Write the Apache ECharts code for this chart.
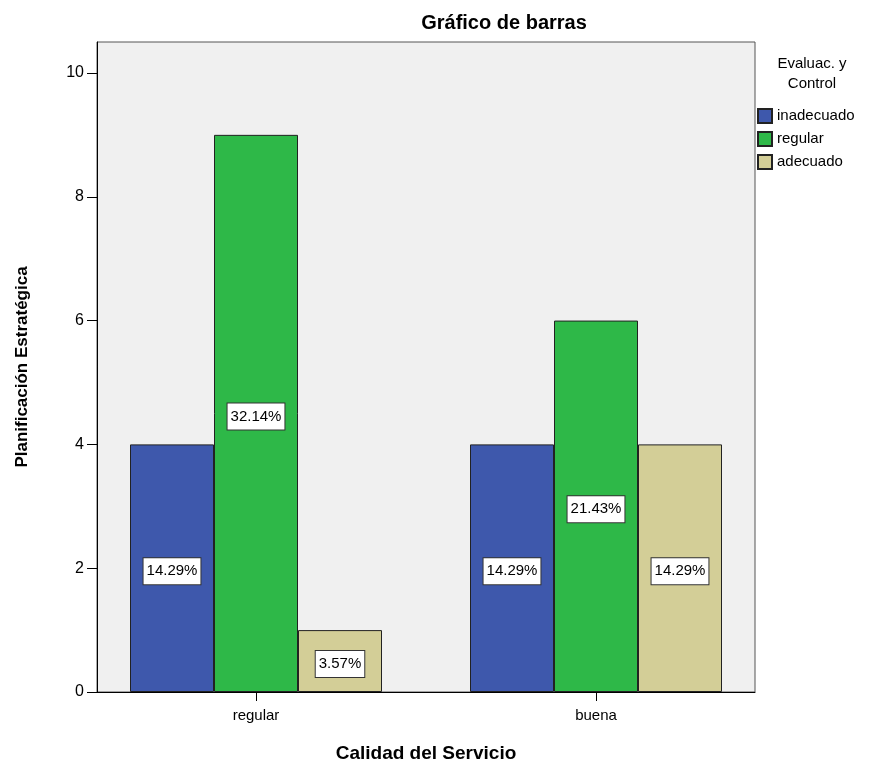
<!DOCTYPE html>
<html>
<head>
<meta charset="utf-8">
<script src="https://cdn.jsdelivr.net/npm/echarts@6/dist/echarts.min.js"></script>
<style>html,body{margin:0;padding:0;background:#fff;}#c{width:871px;height:764px;}</style>
</head>
<body>
<div id="c"></div>
<script>
var categories = ['regular', 'buena'];
var seriesNames = ['inadecuado', 'regular', 'adecuado'];
var inadecuado = [4, 4];
var regular = [9, 6];
var adecuado = [1, 4];
var pctInadecuado = ['14.29%', '14.29%'];
var pctRegular = ['32.14%', '21.43%'];
var pctAdecuado = ['3.57%', '14.29%'];
var yTicks = [0, 2, 4, 6, 8, 10];
var colors = ['#3e58ac', '#2eb848', '#d3ce97'];

var FONT = '"Liberation Sans", Arial, sans-serif';
var chart = echarts.init(document.getElementById('c'), null, {renderer: 'canvas'});

function mkSeries(name, vals, pcts, color) {
  return {
    name: name,
    type: 'bar',
    xAxisIndex: 1,
    yAxisIndex: 1,
    barWidth: 84,
    barGap: '0%',
    data: vals.map(function (v, i) { return {value: v, pct: pcts[i]}; }),
    itemStyle: {color: color, borderColor: '#222', borderWidth: 1},
    label: {
      show: true,
      position: 'inside',
      offset: [0, 3],
      formatter: function (p) { return p.data.pct; },
      fontFamily: FONT,
      fontSize: 15,
      color: '#000',
      backgroundColor: '#fff',
      borderColor: '#333',
      borderWidth: 1,
      padding: [6, 3, 5, 3]
    },
    emphasis: {disabled: true},
    animation: false
  };
}

var option = {
  animation: false,
  textStyle: {fontFamily: FONT},
  graphic: [
    {type: 'text', x: 504, y: 23, style: {text: 'Gráfico de barras', font: 'bold 20px ' + FONT, fill: '#000', textAlign: 'center', textVerticalAlign: 'middle'}},
    {type: 'text', x: 812, y: 64, style: {text: 'Evaluac. y', font: '15px ' + FONT, fill: '#000', textAlign: 'center', textVerticalAlign: 'middle'}},
    {type: 'text', x: 812, y: 84, style: {text: 'Control', font: '15px ' + FONT, fill: '#000', textAlign: 'center', textVerticalAlign: 'middle'}}
  ],
  legend: {
    orient: 'vertical',
    left: 757,
    top: 108,
    itemWidth: 14,
    itemHeight: 14,
    itemGap: 7,
    padding: 0,
    icon: 'rect',
    selectedMode: false,
    data: seriesNames,
    textStyle: {fontFamily: FONT, fontSize: 15, color: '#000'}
  },
  grid: [
    {left: 97, top: 42, width: 658, height: 650, show: true, backgroundColor: '#f0f0f0', borderColor: '#555', borderWidth: 1, containLabel: false, outerBoundsMode: 'none'},
    {left: 86, top: 42, width: 680, height: 650, show: false, containLabel: false, outerBoundsMode: 'none'}
  ],
  xAxis: [
    {gridIndex: 0, type: 'category', data: ['a'], axisLine: {show: true, lineStyle: {color: '#000', width: 1}}, axisTick: {show: false}, axisLabel: {show: false}, splitLine: {show: false}},
    {gridIndex: 1, type: 'category', data: categories, boundaryGap: true,
      axisLine: {show: false},
      axisTick: {show: true, alignWithLabel: true, length: 9, lineStyle: {color: '#000'}},
      axisLabel: {fontFamily: FONT, fontSize: 15, color: '#000', margin: 16},
      name: 'Calidad del Servicio', nameLocation: 'middle', nameGap: 52,
      nameTextStyle: {fontFamily: FONT, fontSize: 19, fontWeight: 'bold', color: '#000'}}
  ],
  yAxis: [
    {gridIndex: 0, type: 'value', min: 0, max: 10.5, interval: 2,
      axisLine: {show: true, lineStyle: {color: '#000', width: 1}},
      axisTick: {show: true, length: 10, lineStyle: {color: '#000'}, customValues: yTicks},
      axisLabel: {fontFamily: FONT, fontSize: 16, color: '#000', margin: 13,
        customValues: yTicks, formatter: function (v) { return String(v); }},
      splitLine: {show: false},
      name: 'Planificación Estratégica', nameLocation: 'middle', nameGap: 66, nameRotate: 90,
      nameTextStyle: {fontFamily: FONT, fontSize: 17, fontWeight: 'bold', color: '#000'}},
    {gridIndex: 1, type: 'value', min: 0, max: 10.5, show: false, splitLine: {show: false}}
  ],
  series: [
    mkSeries(seriesNames[0], inadecuado, pctInadecuado, colors[0]),
    mkSeries(seriesNames[1], regular, pctRegular, colors[1]),
    mkSeries(seriesNames[2], adecuado, pctAdecuado, colors[2])
  ]
};
chart.setOption(option);
</script>
</body>
</html>
